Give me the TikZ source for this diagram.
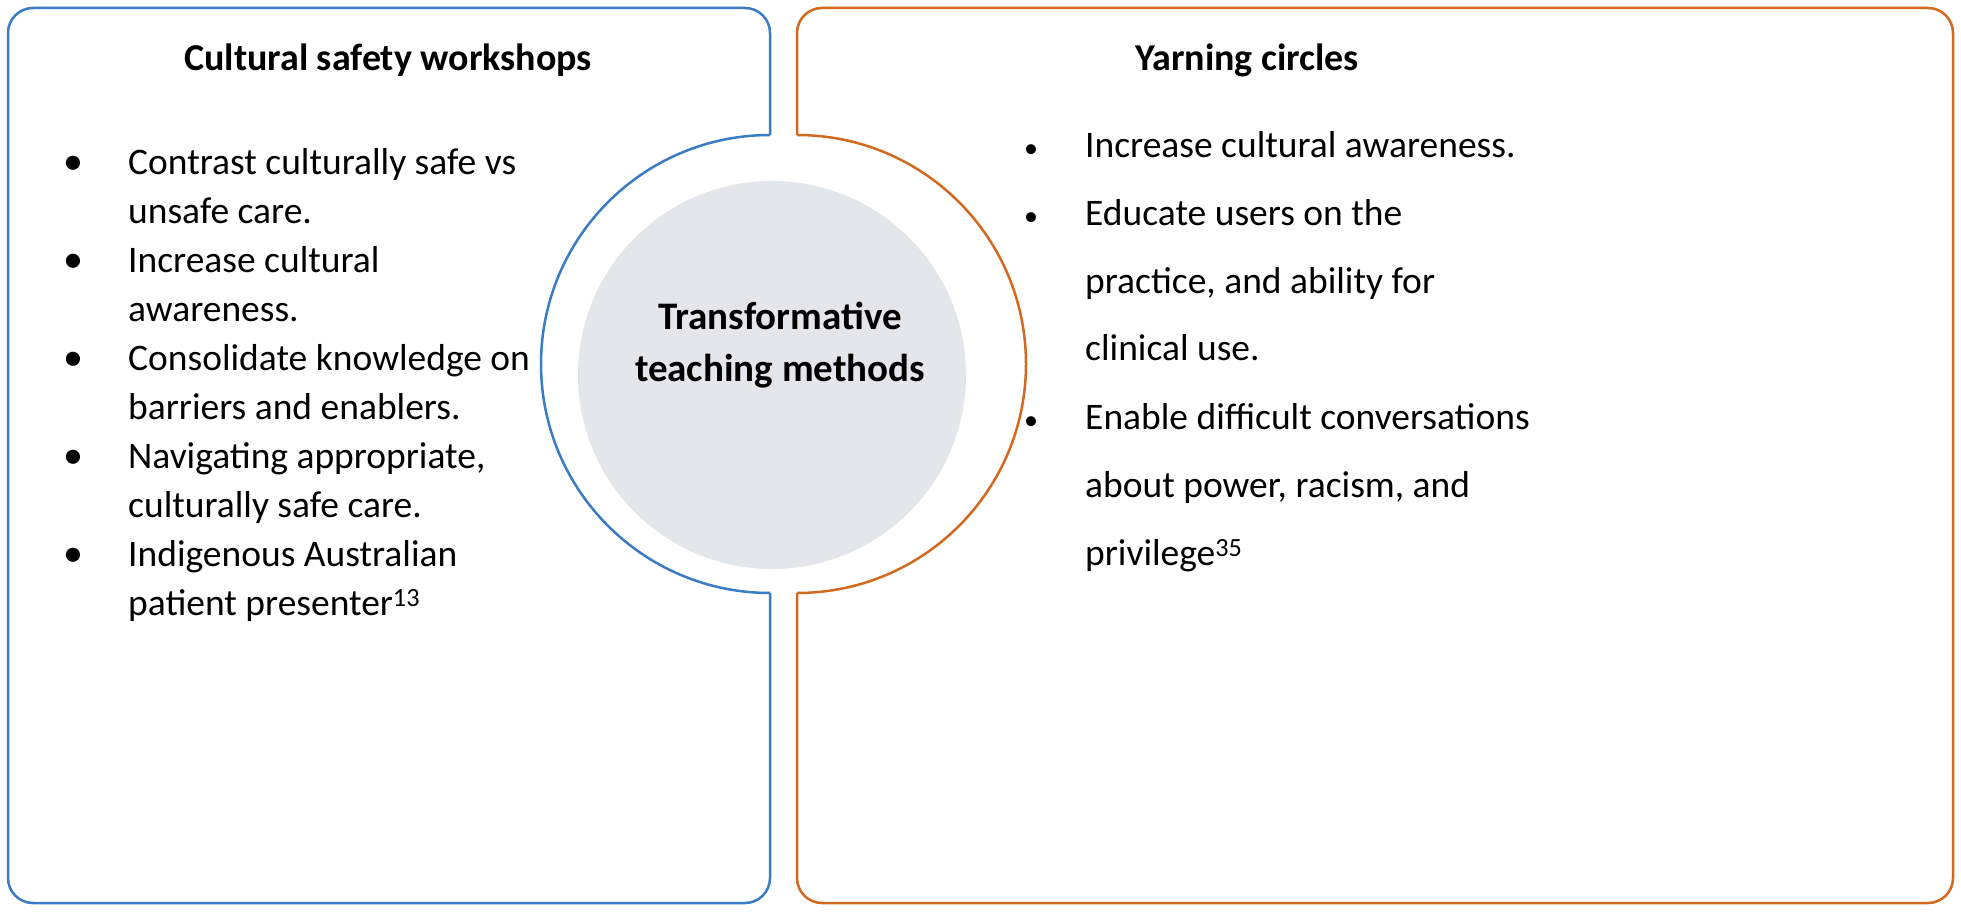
\documentclass[tikz,border=0pt]{standalone}
\usepackage{fontspec}
\setmainfont{Carlito}
\definecolor{bblue}{HTML}{3A7CC4}
\definecolor{oorange}{HTML}{D2691E}
\definecolor{ggray}{HTML}{E3E7EB}
\begin{document}
\begin{tikzpicture}[x=1pt,y=1pt,
  txt/.style={anchor=mid west,inner sep=0pt,font=\fontsize{37.5}{40}\selectfont},
  ttl/.style={anchor=mid,inner sep=0pt,font=\fontsize{38}{44}\selectfont\bfseries},
  bul/.style={anchor=mid,inner sep=0pt,font=\fontsize{37.5}{40}\selectfont},
  frame/.style={line width=2.5pt}]
\useasboundingbox (0,0) rectangle (1961,911);
\fill[white] (0,0) rectangle (1961,911);
% left box
\draw[frame,bblue,rounded corners=25] (770,776) -- (770,903) -- (8,903) -- (8,8) -- (770,8) -- (770,318);
\draw[frame,bblue] (770,776) arc[start angle=90,end angle=270,radius=229];
% right box
\draw[frame,oorange,rounded corners=25] (797,776) -- (797,903) -- (1953,903) -- (1953,8) -- (797,8) -- (797,318);
\draw[frame,oorange] (797,776) arc[start angle=90,end angle=-90,radius=229];
% centre
\node[circle,fill=ggray,minimum size=388,inner sep=0pt] (c) at (772,536) {};
\node[ttl,align=center,font=\fontsize{39}{52}\selectfont\bfseries] (ct) at (780,532) {Transformative\\teaching methods};
% titles
\node[ttl] (t1) at (388,843) {Cultural safety workshops};
\node[ttl,anchor=mid west] (t2) at (1135,843) {Yarning circles};
% left list
\foreach \Y/\t [count=\i] in {172/Contrast culturally safe vs,221/unsafe care.,270/Increase cultural,319/awareness.,368/Consolidate knowledge on,417/barriers and enablers.,466/{Navigating appropriate,},515/culturally safe care.,564/Indigenous Australian,613/patient presenter\textsuperscript{13}}
  \node[txt] (l\i) at (128,911-\Y) {\t};
\foreach \Y [count=\i] in {172,270,368,466,564}
  \node[bul] (lb\i) at (73,911-\Y) {\fontsize{40}{40}\selectfont\textbullet};
% right list
\foreach \Y/\t [count=\i] in {155/Increase cultural awareness.,223/Educate users on the,291/{practice, and ability for},358/clinical use.,427/Enable difficult conversations,495/{about power, racism, and},563/privilege\textsuperscript{35}}
  \node[txt] (r\i) at (1085,911-\Y) {\t};
\foreach \Y [count=\i] in {155,223,427}
  \node[bul] (rb\i) at (1031,911-\Y) {\fontsize{28}{28}\selectfont\textbullet};
\end{tikzpicture}
\end{document}
